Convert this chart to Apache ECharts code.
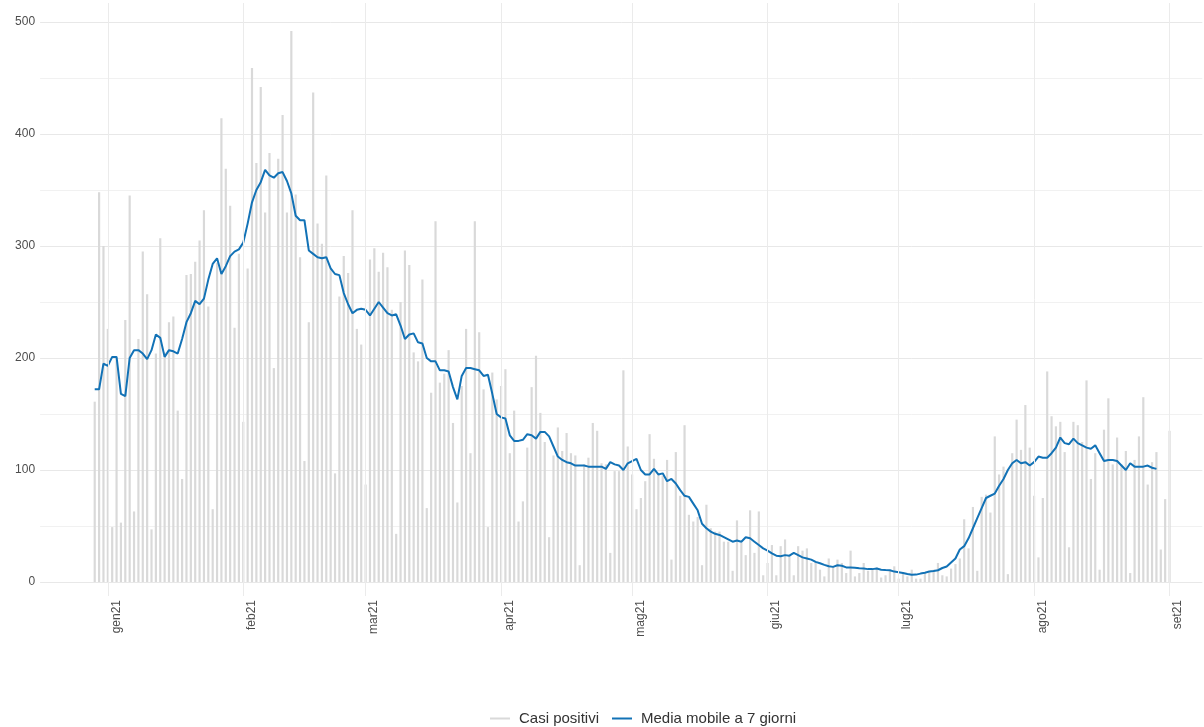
<!DOCTYPE html>
<html><head><meta charset="utf-8">
<script src="https://cdn.jsdelivr.net/npm/echarts@6/dist/echarts.min.js"></script>
<style>html,body{margin:0;padding:0;background:#fff}#c{width:1204px;height:727px}</style>
</head><body><div id="c"></div>
<script>
// First day shown: 2020-12-29, one value per day
const startDate = [2020, 11, 29];
const casiPositivi = [
  161,348,300,226,49,200,53,234,345,63,
  217,295,257,47,204,307,205,232,237,153,
  92,274,275,286,305,332,246,65,285,414,
  369,336,227,293,143,280,459,374,442,330,
  383,191,378,417,330,492,346,290,108,232,
  437,320,302,363,280,97,255,291,276,332,
  226,212,87,288,298,277,294,281,243,43,
  250,296,283,205,197,270,66,169,322,178,
  186,207,142,71,175,226,115,322,223,172,
  49,187,163,175,190,115,153,54,72,120,
  174,202,151,125,40,113,138,117,133,115,
  113,15,105,111,142,135,106,105,26,99,
  99,189,121,96,65,75,90,132,110,96,
  95,109,20,116,77,140,60,54,58,15,
  69,48,45,45,36,36,10,55,35,24,
  64,26,63,6,17,33,6,32,38,24,
  6,32,28,30,17,18,11,5,21,14,
  20,17,8,28,5,8,17,10,11,13,
  4,6,10,14,3,8,5,11,3,3,
  8,9,11,17,6,5,12,16,21,56,
  30,67,10,76,78,62,130,96,103,7,
  115,145,118,158,120,77,22,75,188,148,
  139,143,116,31,143,140,125,180,92,115,
  11,136,164,105,129,105,117,8,109,130,
  165,87,107,116,29,74,135
];
const mediaMobile = [
  172,172,195,193,201,201,168,166,200,207,
  207,204,199,207,221,218,201,207,206,204,
  217,232,240,251,248,253,270,284,289,275,
  282,291,295,297,303,320,339,350,357,368,
  363,361,365,366,358,347,327,323,323,296,
  293,290,289,290,280,275,274,258,248,240,
  243,244,243,238,244,250,245,240,238,239,
  229,217,221,222,214,213,200,197,197,189,
  189,188,174,163,184,191,191,190,189,184,
  185,168,150,147,146,131,126,126,127,132,
  131,128,134,134,130,121,112,109,107,106,
  104,104,104,103,103,103,103,101,107,105,
  104,100,106,108,110,100,96,96,101,96,
  97,90,92,88,82,77,76,70,64,52,
  48,45,43,42,40,38,36,37,36,40,
  39,36,33,30,28,25.5,23.5,23,24,23.5,
  26,24,22,21,20,18,16.7,15.3,14,13.5,
  15,14.5,13,13,12.7,12.3,12,11.5,11.5,12,
  11,10.7,10.5,9.3,8.7,8.1,7.2,6.4,6.6,7.5,
  8.3,9.3,9.8,10.5,12.5,13.8,17.5,21,29,32,
  39,48,57,66,75,77,79,86,92,100,
  106,109,106,107,104,107,112,111,111,115,
  120,129,124,123,128,124,122,120,119,122,
  115,108,109,109,108,104,100,106,103,103,
  103,104,102,101
];
const monthNames = ['gen','feb','mar','apr','mag','giu','lug','ago','set','ott','nov','dic'];
const yTicks = [0,100,200,300,400,500];
const seriesNames = ['Casi positivi','Media mobile a 7 giorni'];
const padBefore = 12, padAfter = 7;

const base = Date.UTC(startDate[0], startDate[1], startDate[2]);
const cats = [];
for (let k = -padBefore; k < casiPositivi.length + padAfter; k++) {
  cats.push(new Date(base + k * 86400000).toISOString().slice(0, 10));
}
const pick = arr => cats.map((c, k) => { const i = k - padBefore; return (i >= 0 && i < arr.length) ? arr[i] : null; });
const barData = pick(casiPositivi);
const lineData = pick(mediaMobile);
const monthStarts = cats.filter(c => c.slice(8) === '01');

const FONT = "'Liberation Sans', Arial, sans-serif";
const chart = echarts.init(document.getElementById('c'), null, {renderer: 'canvas'});
chart.setOption({
  animation: false,
  backgroundColor: '#ffffff',
  textStyle: {fontFamily: FONT},
  grid: [
    {left: 40.1, right: 1.7, top: 3, bottom: 131},
    {left: 40.1, right: 1.7, top: 22, bottom: 145}
  ],
  xAxis: [
    {
      type: 'category', gridIndex: 0, data: cats, boundaryGap: true,
      axisLine: {show: false}, axisTick: {show: false}, splitLine: {show: false},
      axisLabel: {
        interval: (i, v) => v.slice(8) === '01', rotate: 90, margin: 4,
        verticalAlign: 'top', lineHeight: 17,
        color: '#4d4d4d', fontSize: 12, fontFamily: FONT,
        formatter: v => monthNames[+v.slice(5, 7) - 1] + v.slice(2, 4)
      }
    },
    {type: 'category', gridIndex: 1, data: cats, boundaryGap: true, show: false}
  ],
  yAxis: [
    {type: 'value', gridIndex: 0, show: false, min: 0, max: 1, splitLine: {show: false}},
    {
      type: 'value', gridIndex: 1, min: 0, max: 500, interval: 50,
      axisLine: {show: false}, axisTick: {show: false},
      axisLabel: {color: '#4d4d4d', fontSize: 12, margin: 5, fontFamily: FONT,
        formatter: v => yTicks.indexOf(v) >= 0 ? String(v) : ''},
      splitLine: {show: true, lineStyle: {color: ['#e8e8e8', '#f1f1f1'], width: 1}}
    }
  ],
  legend: {
    top: 706, left: 485, itemWidth: 20, itemHeight: 2, itemGap: 13,
    textStyle: {color: '#333333', fontSize: 15, fontFamily: FONT, padding: [0, 0, 0, 4]},
    data: [{name: seriesNames[0], icon: 'rect'}, {name: seriesNames[1], icon: 'rect'}]
  },
  series: [
    {
      name: 'grid-mesi', type: 'line', xAxisIndex: 0, yAxisIndex: 0,
      data: cats.map(() => null), silent: true, z: 0,
      markLine: {
        silent: true, symbol: ['none', 'none'], label: {show: false},
        lineStyle: {color: '#ebebeb', type: 'solid', width: 1},
        emphasis: {disabled: true},
        data: monthStarts.map(d => ({xAxis: d}))
      }
    },
    {
      name: seriesNames[0], type: 'bar', xAxisIndex: 1, yAxisIndex: 1, data: barData,
      barWidth: '50%', itemStyle: {color: '#d9d9d9'}, z: 2
    },
    {
      name: seriesNames[1], type: 'line', xAxisIndex: 1, yAxisIndex: 1, data: lineData,
      showSymbol: false, symbol: 'none', connectNulls: false,
      lineStyle: {color: '#1272b6', width: 2}, itemStyle: {color: '#1272b6'}, z: 3
    }
  ]
});
</script>
</body></html>
